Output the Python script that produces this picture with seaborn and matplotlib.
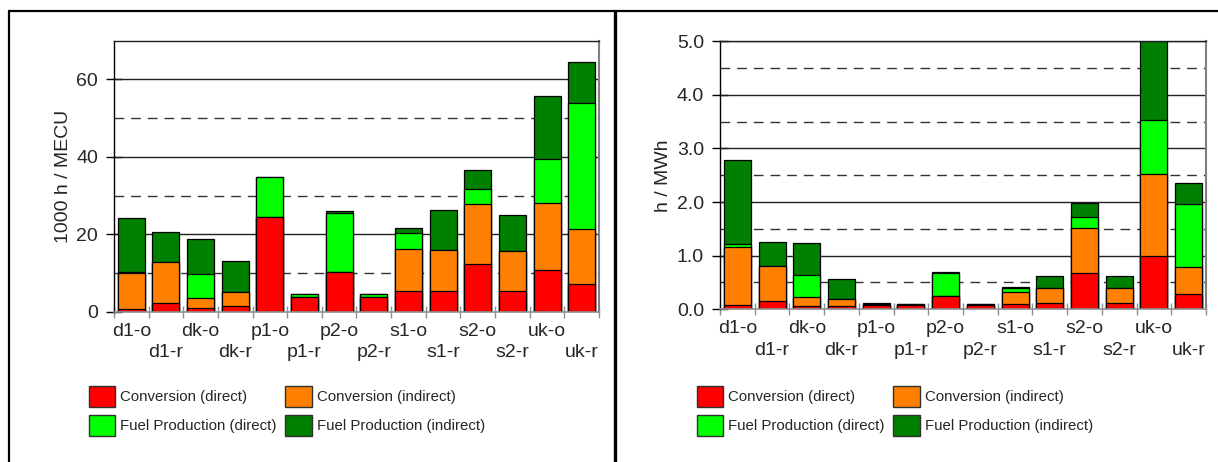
import numpy as np
import pandas as pd
import matplotlib
matplotlib.use("Agg")
import matplotlib.pyplot as plt
from matplotlib.patches import Patch
from matplotlib.lines import Line2D
from matplotlib.ticker import MultipleLocator, FixedLocator
import seaborn as sns

# ---- data -------------------------------------------------------------
cases = ["d1-o", "d1-r", "dk-o", "dk-r", "p1-o", "p1-r", "p2-o",
         "p2-r", "s1-o", "s1-r", "s2-o", "s2-r", "uk-o", "uk-r"]

components = ["Conversion (direct)", "Conversion (indirect)",
              "Fuel Production (direct)", "Fuel Production (indirect)"]

# 1000 h / MECU, per component
econ_conv_direct   = [0.6, 2.3, 0.9, 1.5, 24.4, 3.9, 10.2, 3.9, 5.3, 5.3, 12.3, 5.3, 10.7, 7.1]
econ_conv_indirect = [9.3, 10.5, 2.6, 3.5, 0.0, 0.0, 0.0, 0.0, 11.0, 10.6, 15.4, 10.4, 17.4, 14.2]
econ_fuel_direct   = [0.4, 0.0, 6.2, 0.0, 10.3, 0.6, 15.4, 0.6, 4.1, 0.0, 3.9, 0.0, 11.4, 32.7]
econ_fuel_indirect = [14.0, 7.7, 9.2, 8.1, 0.2, 0.0, 0.3, 0.0, 1.1, 10.3, 4.9, 9.3, 16.3, 10.6]

# h / MWh, per component
energy_conv_direct   = [0.08, 0.16, 0.06, 0.06, 0.08, 0.08, 0.25, 0.08, 0.10, 0.12, 0.67, 0.12, 1.00, 0.28]
energy_conv_indirect = [1.08, 0.64, 0.17, 0.14, 0.00, 0.00, 0.00, 0.00, 0.22, 0.27, 0.85, 0.27, 1.52, 0.50]
energy_fuel_direct   = [0.06, 0.00, 0.41, 0.00, 0.02, 0.01, 0.42, 0.01, 0.07, 0.00, 0.20, 0.00, 1.02, 1.18]
energy_fuel_indirect = [1.56, 0.46, 0.59, 0.36, 0.01, 0.01, 0.02, 0.01, 0.03, 0.23, 0.26, 0.23, 1.46, 0.40]

colors = ["#FF0000", "#FF8000", "#00FF00", "#008000"]

# ---- style ------------------------------------------------------------
sns.set_theme(style="white")
plt.rcParams["font.family"] = ["Liberation Sans", "DejaVu Sans"]

W, H = 1218, 462
fig = plt.figure(figsize=(W / 100, H / 100), dpi=100)
fig.patch.set_facecolor("white")


def px_rect(x0, y0, x1, y1):
    return [x0 / W, 1 - y1 / H, (x1 - x0) / W, (y1 - y0) / H]


def stacked_panel(ax, layers, ymax, major, minor, fmt, ylabel, label_x):
    df = pd.DataFrame({"case": cases})
    cum = np.cumsum(np.array(layers), axis=0)
    # draw the cumulative totals from the top layer down so each
    # lower segment sits on top of the one above it
    for i in range(len(layers) - 1, -1, -1):
        df["value"] = cum[i]
        sns.barplot(data=df, x="case", y="value", order=cases, color=colors[i],
                    saturation=1, width=0.78, edgecolor="black", linewidth=0.9,
                    errorbar=None, ax=ax, zorder=3)

    ax.set_xlim(-0.5, len(cases) - 0.5)
    ax.set_ylim(0, ymax)

    # y axis: solid major grid, dashed minor grid
    ax.yaxis.set_major_locator(MultipleLocator(major))
    ax.yaxis.set_minor_locator(MultipleLocator(minor))
    ax.yaxis.set_major_formatter(plt.FormatStrFormatter(fmt))
    ax.grid(False)
    for v in np.arange(major, ymax + 1e-9, major):
        ax.axhline(v, color="#222222", lw=1.0, zorder=1)
    for v in np.arange(minor, ymax, major):
        ax.axhline(v, color="#333333", lw=1.0, ls=(0, (7, 5)), zorder=1)

    ax.tick_params(axis="y", which="major", direction="inout", length=11,
                   width=1, color="black", labelsize=14, pad=6, left=True)
    ax.tick_params(axis="y", which="minor", length=0)

    # x axis: staggered case labels, tick marks between categories
    ax.set_xticks(range(len(cases)))
    ax.set_xticklabels([c if i % 2 == 0 else "\n" + c for i, c in enumerate(cases)],
                       linespacing=1.35)
    ax.xaxis.set_minor_locator(FixedLocator(np.arange(-0.5, len(cases), 1.0)))
    ax.tick_params(axis="x", which="major", length=0, labelsize=14, pad=8)
    ax.tick_params(axis="x", which="minor", direction="inout", length=8,
                   width=1, color="#909090", bottom=True)

    ax.set_xlabel("")
    ax.set_ylabel(ylabel, fontsize=14)
    ax.yaxis.set_label_coords(label_x, 0.5)

    ax.spines["left"].set_color("black")
    ax.spines["left"].set_linewidth(1.0)
    ax.spines["top"].set_color("#202020")
    ax.spines["top"].set_linewidth(1.0)
    ax.spines["right"].set_color("#808080")
    ax.spines["right"].set_linewidth(1.5)
    ax.spines["bottom"].set_color("#909090")
    ax.spines["bottom"].set_linewidth(1.2)
    for s in ax.spines.values():
        s.set_zorder(4)


ax1 = fig.add_axes(px_rect(114, 40.7, 599, 311.7))
stacked_panel(ax1, [econ_conv_direct, econ_conv_indirect, econ_fuel_direct, econ_fuel_indirect],
              70, 20, 10, "%d", "1000 h / MECU", -0.087)

ax2 = fig.add_axes(px_rect(720, 41.3, 1206, 309.3))
stacked_panel(ax2, [energy_conv_direct, energy_conv_indirect, energy_fuel_direct, energy_fuel_indirect],
              5.0, 1.0, 0.5, "%.1f", "h / MWh", -0.099)

# ---- legends ----------------------------------------------------------
handles = [Patch(facecolor=c, edgecolor="#303030", linewidth=1.0) for c in colors]
order = [0, 2, 1, 3]
for x_left in (89, 697):
    fig.legend([handles[i] for i in order], [components[i] for i in order],
               loc="upper left", bbox_to_anchor=(x_left / W, 1 - 386 / H),
               ncol=2, frameon=False, fontsize=10.8, borderpad=0,
               borderaxespad=0, handlelength=1.75, handleheight=1.8,
               handletextpad=0.35, labelspacing=0.5, columnspacing=0.55)

# ---- panel frames -----------------------------------------------------
fig.add_artist(Line2D([8 / W, 1.0], [1 - 11 / H, 1 - 11 / H], color="black",
                      lw=1.6, transform=fig.transFigure, solid_capstyle="butt"))
fig.add_artist(Line2D([9 / W, 9 / W], [1 - 10 / H, 0], color="black",
                      lw=1.6, transform=fig.transFigure, solid_capstyle="butt"))
fig.add_artist(Line2D([615 / W, 615 / W], [1 - 10 / H, 0], color="black",
                      lw=2.4, transform=fig.transFigure, solid_capstyle="butt"))

fig.savefig("out.png", dpi=100, facecolor="white")
